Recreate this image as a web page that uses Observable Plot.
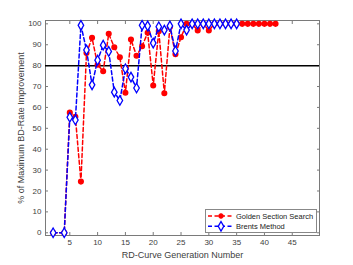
<!DOCTYPE html>
<html>
<head>
<meta charset="utf-8">
<script src="https://cdn.jsdelivr.net/npm/d3@7"></script>
<script src="https://cdn.jsdelivr.net/npm/@observablehq/plot@0.6"></script>
<style>
  body { margin: 0; background: #fff; }
  #wrap { position: relative; width: 353px; height: 265px; font-family: "Liberation Sans", Arial, sans-serif; }
  #legend { position: absolute; left: 205px; top: 209px; width: 110px; height: 22px; background: #fff; border: 1px solid #888; }
</style>
</head>
<body>
<div id="wrap"></div>
<script>
// Golden Section Search
const goldenGen = [2, 4, 5, 6, 7, 8, 9, 10, 11, 12, 13, 14, 15, 16, 17, 18, 19, 20, 21, 22, 23, 24, 25, 26, 27, 28, 29, 30, 31, 32, 33, 34, 35, 36, 37, 38, 39, 40, 41, 42];
const goldenVal = [0, 0, 57.5, 55.5, 24.5, 86, 93.3, 80.4, 77.3, 95.2, 88.8, 84, 67, 92.5, 84.7, 89.3, 95.7, 70.5, 96.5, 66.8, 98.5, 85.5, 93.6, 100, 100, 96.8, 100, 96.8, 100, 100, 100, 100, 100, 100, 100, 100, 100, 100, 100, 100];
// Brents Method
const brentGen = [2, 4, 5, 6, 7, 8, 9, 10, 11, 12, 13, 14, 15, 16, 17, 18, 19, 20, 21, 22, 23, 24, 25, 26, 27, 28, 29, 30, 31, 32, 33, 34, 35];
const brentVal = [0, 0, 55.3, 54, 99.3, 87.5, 70.8, 82.6, 89.8, 86.8, 67.3, 63.3, 78.5, 74.5, 69.3, 99.3, 99, 90.8, 98.6, 97, 99, 87, 100, 97, 100, 100, 100, 100, 100, 100, 100, 100, 100];
const threshold = [80];
const xTicks = [5, 10, 15, 20, 25, 30, 35, 40, 45];
const yTicks = [0, 10, 20, 30, 40, 50, 60, 70, 80, 90, 100];
const seriesNames = ["Golden Section Search", "Brents Method"];
const xLabel = "RD-Curve Generation Number";
const yLabel = "% of Maximum BD-Rate Improvement";

const golden = goldenGen.map((g, i) => ({g, v: goldenVal[i]}));
const brent = brentGen.map((g, i) => ({g, v: brentVal[i]}));

const RED = "#ff0000", BLUE = "#0000ff", AX = "#7a7a7a", TXT = "#404040";
const dash = "4,2.5";

const chart = Plot.plot({
  width: 353,
  height: 265,
  marginLeft: 45,
  marginRight: 34,
  marginTop: 20,
  marginBottom: 30,
  style: {fontFamily: "'Liberation Sans', Arial, sans-serif", color: TXT, background: "#fff"},
  x: {domain: [0.63, 49.9]},
  y: {domain: [-1.3, 101.6]},
  marks: [
    Plot.frame({stroke: AX}),
    Plot.axisX({ticks: xTicks, tickSize: -3, tickPadding: 7, stroke: AX, fontSize: 8, label: null}),
    Plot.axisX({anchor: "top", ticks: xTicks, tickSize: -3, tickFormat: () => "", stroke: AX, label: null}),
    Plot.axisY({ticks: yTicks, tickSize: -3, tickPadding: 7, stroke: AX, fontSize: 8, label: null}),
    Plot.axisY({anchor: "right", ticks: yTicks, tickSize: -3, tickFormat: () => "", stroke: AX, label: null}),
    Plot.text([xLabel], {frameAnchor: "bottom", dy: 22, fontSize: 9, fill: TXT, textAnchor: "middle"}),
    Plot.text([yLabel], {frameAnchor: "left", rotate: -90, dx: -24, fontSize: 9, fill: TXT, textAnchor: "middle", lineAnchor: "middle"}),
    Plot.ruleY(threshold, {stroke: "#000", strokeWidth: 1.5}),
    Plot.line(golden, {x: "g", y: "v", stroke: RED, strokeWidth: 1.5, strokeDasharray: dash}),
    Plot.dot(golden, {x: "g", y: "v", fill: RED, stroke: RED, r: 2.3}),
    Plot.line(brent, {x: "g", y: "v", stroke: BLUE, strokeWidth: 1.5, strokeDasharray: dash}),
    Plot.dot(brent, {x: "g", y: "v", symbol: "diamond", r: 2.9, stroke: BLUE, strokeWidth: 1.3, fill: "#fff"})
  ]
});

const wrap = document.getElementById("wrap");
wrap.appendChild(chart);

// Legend
const leg = document.createElement("div");
leg.id = "legend";
const ns = "http://www.w3.org/2000/svg";
const lsvg = document.createElementNS(ns, "svg");
lsvg.setAttribute("width", 110);
lsvg.setAttribute("height", 22);
const entries = [
  {name: seriesNames[0], color: RED, sym: "circle"},
  {name: seriesNames[1], color: BLUE, sym: "diamond"}
];
entries.forEach((e, i) => {
  const cy = 6 + i * 10.3;
  const ln = document.createElementNS(ns, "line");
  ln.setAttribute("x1", 2); ln.setAttribute("x2", 27);
  ln.setAttribute("y1", cy); ln.setAttribute("y2", cy);
  ln.setAttribute("stroke", e.color); ln.setAttribute("stroke-width", 1.5);
  ln.setAttribute("stroke-dasharray", dash);
  lsvg.appendChild(ln);
  const p = document.createElementNS(ns, "path");
  if (e.sym === "circle") {
    p.setAttribute("d", d3.symbol(d3.symbolCircle, Math.PI * 2.3 * 2.3)());
    p.setAttribute("fill", e.color); p.setAttribute("stroke", e.color);
  } else {
    p.setAttribute("d", d3.symbol(d3.symbolDiamond, Math.PI * 2.9 * 2.9)());
    p.setAttribute("fill", "#fff"); p.setAttribute("stroke", e.color); p.setAttribute("stroke-width", 1.3);
  }
  p.setAttribute("transform", `translate(15,${cy})`);
  lsvg.appendChild(p);
  const t = document.createElementNS(ns, "text");
  t.setAttribute("x", 30); t.setAttribute("y", cy);
  t.setAttribute("dy", "0.35em");
  t.setAttribute("font-size", 7.5);
  t.setAttribute("fill", "#222");
  t.setAttribute("font-family", "'Liberation Sans', Arial, sans-serif");
  t.textContent = e.name;
  lsvg.appendChild(t);
});
leg.appendChild(lsvg);
wrap.appendChild(leg);
</script>
</body>
</html>
